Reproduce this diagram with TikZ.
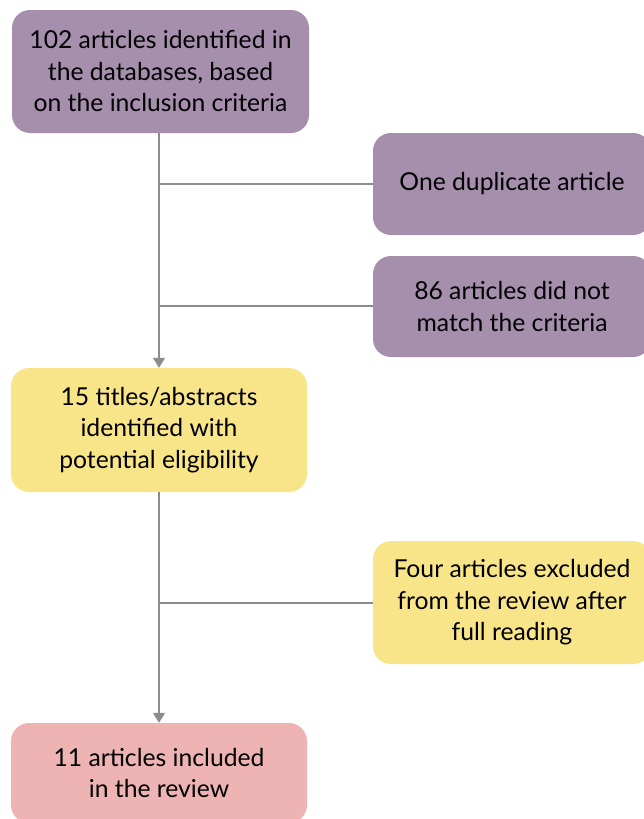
\documentclass[tikz,border=0pt]{standalone}
\usepackage{fontspec}
\setmainfont{Lato}
\usetikzlibrary{arrows.meta}
\definecolor{cpurple}{HTML}{A68EAD}
\definecolor{cyellow}{HTML}{F8E58A}
\definecolor{cpink}{HTML}{EEB4B4}
\definecolor{cline}{HTML}{8C8C8C}
\tikzset{
  box/.style={rounded corners=18pt, inner sep=0pt, align=center, text=black,
    font=\fontsize{24.7pt}{31.5pt}\selectfont},
  link/.style={draw=cline, line width=1.3pt},
  arr/.style={link, -{Triangle[width=12pt,length=10pt]}},
}
\begin{document}
\begin{tikzpicture}[x=1pt,y=-1pt]
\useasboundingbox (0,0) rectangle (643,819);
\node[box, fill=cpurple, minimum width=297pt, minimum height=123pt] (a) at (160.5,71.5)
  {102 articles identified in\\the databases, based\\on the inclusion criteria};
\node[box, fill=cpurple, minimum width=278pt, minimum height=102pt] (b) at (512,184)
  {One duplicate article};
\node[box, fill=cpurple, minimum width=278pt, minimum height=101pt] (c) at (512,306.5)
  {86 articles did not\\match the criteria};
\node[box, fill=cyellow, minimum width=296pt, minimum height=124pt] (d) at (159,430)
  {15 titles/abstracts\\identified with\\potential eligibility};
\node[box, fill=cyellow, minimum width=278pt, minimum height=123pt] (e) at (512,602.5)
  {Four articles excluded\\from the review after\\full reading};
\node[box, fill=cpink, minimum width=296pt, minimum height=100pt] (f) at (159,773)
  {11 articles included\\in the review};
\coordinate (j1) at (159,184);
\coordinate (j2) at (159,306);
\coordinate (j3) at (159,603);
\draw[arr] (a.south -| j1) -- (d.north -| j1);
\draw[link] (j1) -- (b.west |- j1);
\draw[link] (j2) -- (c.west |- j2);
\draw[arr] (d.south -| j3) -- (f.north -| j3);
\draw[link] (j3) -- (e.west |- j3);
\end{tikzpicture}
\end{document}
